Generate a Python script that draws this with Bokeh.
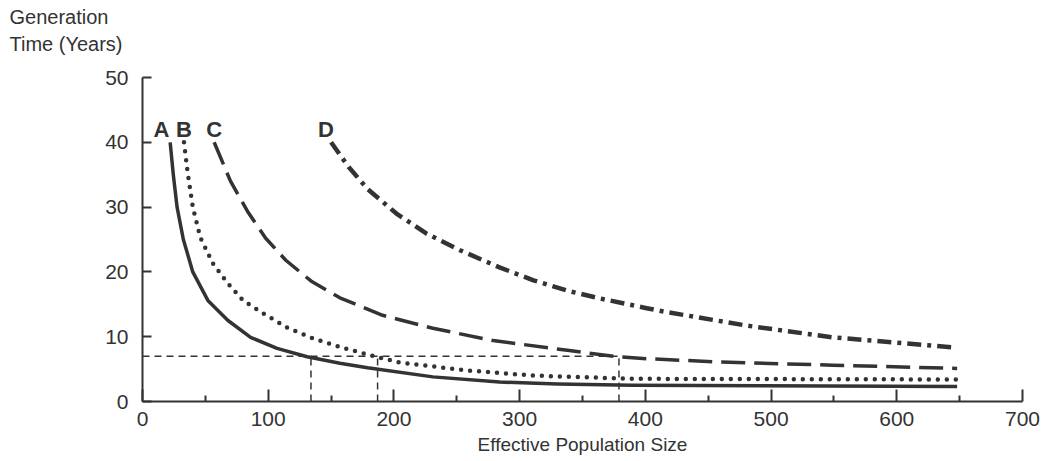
from bokeh.plotting import figure
from bokeh.models import Range1d, FixedTicker, Label, Title
from bokeh.embed import file_html
from bokeh.resources import INLINE

# ---- data ----
a_x = [22, 24.5, 27.5, 32.5, 40, 52, 68, 86, 107, 131, 157, 179, 231, 284, 330, 390, 648]
a_y = [40, 35.0, 30.0, 25.0, 20.0, 15.6, 12.5, 9.9, 8.2, 6.9, 5.9, 5.2, 3.8, 3.0, 2.7, 2.5, 2.3]

b_x = [33, 36, 40, 46, 56, 68, 80, 96, 115, 136, 159, 186, 205, 258, 311, 390, 648]
b_y = [40, 35.2, 30.0, 25.3, 21.3, 18.2, 15.6, 13.6, 11.4, 9.7, 8.3, 6.9, 6.0, 4.8, 4.0, 3.5, 3.4]

c_x = [57, 70, 84, 98, 114, 134, 157, 191, 231, 279, 338, 378, 401, 459, 549, 648]
c_y = [40, 34.0, 29.2, 25.2, 21.8, 18.6, 16.0, 13.3, 11.3, 9.4, 7.9, 6.9, 6.6, 6.1, 5.6, 5.1]

d_x = [150, 164, 179, 202, 226, 253, 284, 311, 338, 364, 401, 417, 481, 549, 648]
d_y = [40, 36.2, 32.8, 29.0, 25.9, 23.3, 20.7, 18.7, 17.1, 15.9, 14.4, 13.8, 11.7, 9.9, 8.3]

ref_level = 7
ref_x = [134, 187, 379]

curve_names = ["A", "B", "C", "D"]
name_x = [15, 33, 57, 146]
name_y = 42

x_ticks = [0, 100, 200, 300, 400, 500, 600, 700]
x_minor = [50, 150, 250, 350, 450, 550, 650]
y_ticks = [0, 10, 20, 30, 40, 50]

y_title_lines = ["Generation", "Time (Years)"]
x_title = "Effective Population Size"

INK = "#333333"
FONT = "Liberation Sans"

p = figure(width=1049, height=461, x_range=Range1d(0, 700), y_range=Range1d(0, 50),
           output_backend="svg", toolbar_location=None,
           min_border_left=142, min_border_right=27, min_border_top=77, min_border_bottom=60)
p.outline_line_color = None
p.xgrid.visible = False
p.ygrid.visible = False
p.background_fill_color = "white"
p.border_fill_color = "white"

# axes
xa = p.xaxis[0]
xa.ticker = FixedTicker(ticks=x_ticks, minor_ticks=x_minor)
xa.axis_line_width = 2
xa.axis_line_color = INK
xa.major_tick_in = 12
xa.major_tick_out = 0
xa.minor_tick_in = 6
xa.minor_tick_out = 0
xa.major_tick_line_width = 2
xa.minor_tick_line_width = 2
xa.major_tick_line_color = INK
xa.minor_tick_line_color = INK
xa.major_label_standoff = 10
xa.major_label_text_font = FONT
xa.major_label_text_font_size = "21px"
xa.major_label_text_color = INK
xa.axis_label = x_title
xa.axis_label_text_font = FONT
xa.axis_label_text_font_style = "normal"
xa.axis_label_text_font_size = "19px"
xa.axis_label_text_color = INK
xa.axis_label_standoff = 5

ya = p.yaxis[0]
ya.ticker = FixedTicker(ticks=y_ticks, minor_ticks=[])
ya.axis_line_width = 2
ya.axis_line_color = INK
ya.major_tick_in = 9
ya.major_tick_out = 0
ya.major_tick_line_width = 2
ya.major_tick_line_color = INK
ya.major_label_standoff = 14
ya.major_label_text_font = FONT
ya.major_label_text_font_size = "21px"
ya.major_label_text_color = INK

# y title: two left-aligned lines above the frame (a tiny blank spacer keeps them off the frame)
p.add_layout(Title(text=" ", align="left", standoff=20, text_font_size="1px"), "above")
p.add_layout(Title(text=y_title_lines[1], align="left", offset=-133, standoff=0,
                   text_font=FONT, text_font_size="20px", text_font_style="normal",
                   text_color=INK), "above")
p.add_layout(Title(text=y_title_lines[0], align="left", offset=-133, standoff=6,
                   text_font=FONT, text_font_size="20px", text_font_style="normal",
                   text_color=INK), "above")

# reference dashed lines
p.line([0, ref_x[-1]], [ref_level, ref_level], line_color=INK, line_width=1.5, line_dash="7 5")
for rx in ref_x:
    p.line([rx, rx], [0, ref_level], line_color=INK, line_width=1.5, line_dash="7 5")

# curves
p.line(a_x, a_y, line_color=INK, line_width=3.5, line_join="round")
p.line(b_x, b_y, line_color=INK, line_width=4.5, line_dash="0 9", line_cap="round", line_join="round")
p.line(c_x, c_y, line_color=INK, line_width=3.5, line_dash="24 9", line_join="round")
p.line(d_x, d_y, line_color=INK, line_width=4.5, line_dash="14 6 4 6", line_join="round")

# curve letters
for nm, nx in zip(curve_names, name_x):
    p.add_layout(Label(x=nx, y=name_y, text=nm, text_font=FONT, text_font_style="bold",
                       text_font_size="22px", text_color=INK, text_align="center",
                       text_baseline="alphabetic"))

open("out.html", "w").write(file_html(p, INLINE))
